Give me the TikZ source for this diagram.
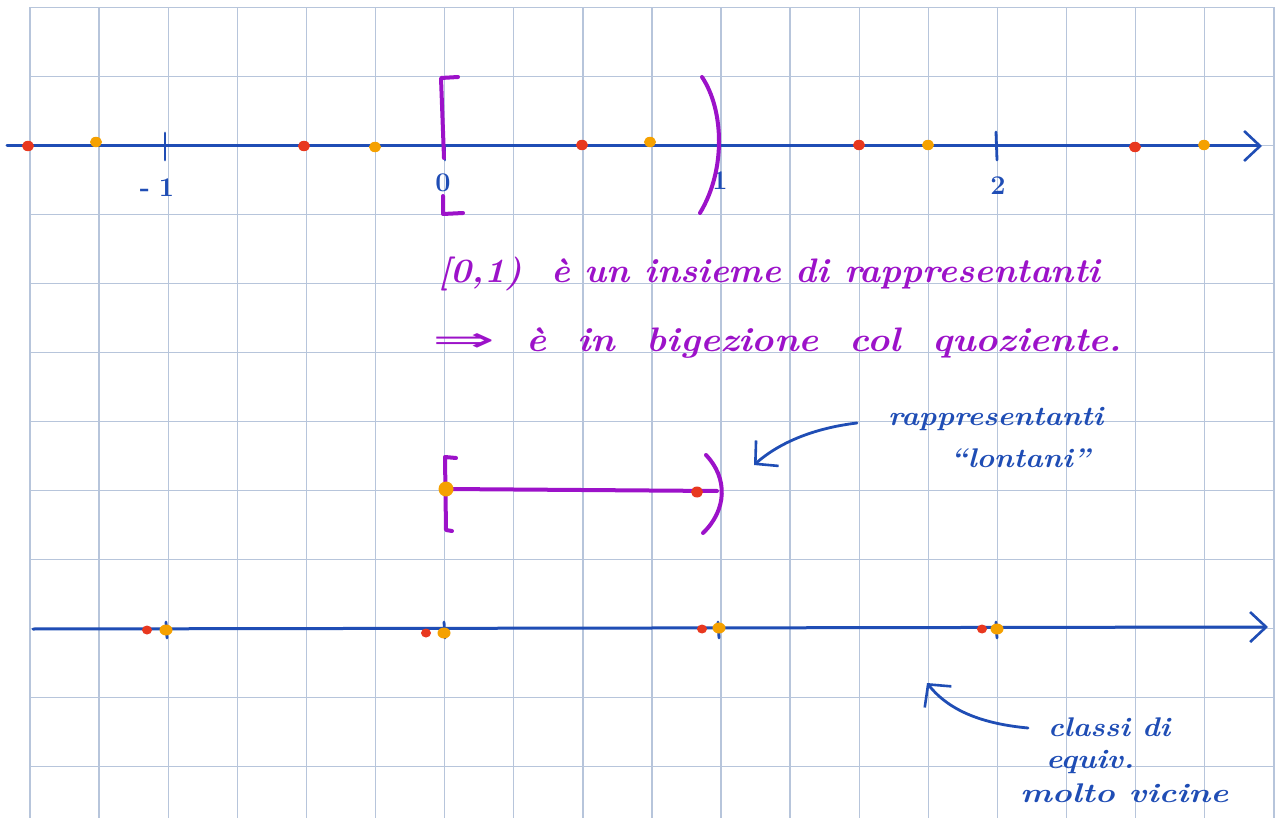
\documentclass[tikz,border=0pt]{standalone}
\usepackage{fontspec}
\usepackage{graphicx}
\usetikzlibrary{arrows.meta}
\newfontfamily\arrowfont{DejaVu Sans}
\definecolor{gridc}{HTML}{B7C5DB}
\definecolor{ink}{HTML}{1F4DB5}
\definecolor{purp}{HTML}{9C12C9}
\definecolor{dred}{HTML}{E8381F}
\definecolor{dorg}{HTML}{F5A100}
\tikzset{
  gridline/.style={gridc, line width=1.4pt},
  axis/.style={ink, line width=3pt, line cap=round, -{Straight Barb[length=16pt,width=30pt,line width=2.6pt]}},
  tick/.style={ink, line width=2.8pt, line cap=round},
  brk/.style={purp, line width=4pt, line cap=round, line join=round},
  callout/.style={ink, line width=2.8pt, line cap=round, -{Straight Barb[length=16pt,width=34pt,line width=2.6pt]}},
  rdot/.style={fill=dred, draw=none},
  odot/.style={fill=dorg, draw=none},
  ptext/.style={text=purp, inner sep=0pt, font=\bfseries\itshape\fontsize{34}{40}\selectfont},
  btext/.style={text=ink, inner sep=0pt, font=\bfseries\itshape\fontsize{27}{32}\selectfont},
  ntext/.style={text=ink, inner sep=0pt, font=\bfseries\fontsize{27}{32}\selectfont}
}
\begin{document}
\begin{tikzpicture}[x=1pt,y=-1pt]
\useasboundingbox (0,0) rectangle (1275,818);
\fill[white] (0,0) rectangle (1275,818);
% grid
\foreach \i in {0,...,18} \draw[gridline] ({30+69.1*\i},7.5) -- ({30+69.1*\i},818);
\foreach \j in {0,...,11} \draw[gridline] (30,{7.5+69*\j}) -- (1275,{7.5+69*\j});

% ---- top axis
\coordinate (a1s) at (7,146);
\coordinate (a1e) at (1262,146);
\draw[axis] (a1s) -- (a1e);
\draw[tick] (165,133) -- (165,160);
\draw[tick] (445,146) -- (445,160);
\draw[tick] (996,132) -- (997,160);
\node[ntext] (lm1) at (157,188) {-\,\,1};
\node[ntext] (l0) at (443,183) {0};
\node[ntext] (l1) at (720,181) {1};
\node[ntext] (l2) at (998,186) {2};
% dots top
\foreach \x/\y in {28/146, 304/146, 582/145, 859/145, 1135/147}
  \fill[rdot] (\x,\y) ellipse (6pt and 5.2pt);
\foreach \x/\y in {96/142, 375/147, 650/142, 928/145, 1204/145}
  \fill[odot] (\x,\y) ellipse (6pt and 5.2pt);

% purple brackets on top axis
\draw[brk] (458,77) -- (441,78) -- (444,158);
\draw[brk] (443,196) -- (443,214) -- (463,213);
\draw[brk] (702,77) .. controls (724,110) and (726,170) .. (700,213);

% ---- purple text
\node[ptext, anchor=base west] (t1) at (438,283)
  {\resizebox{662pt}{\height}{[0,1)\ \ è\ un\ insieme\ di\ rappresentanti}};
\node[ptext, anchor=base west] (t2) at (432,352)
  {\resizebox{690pt}{\height}{{\arrowfont\mdseries\upshape\scalebox{2}[1]{⇒}}\ \ è\ \ in\ \ bigezione\ \ col\ \ quoziente.}};

% ---- middle interval
\coordinate (m0) at (446,489);
\coordinate (m1) at (717,491);
\draw[brk] (m0) -- (m1);
\draw[brk] (456,458) -- (445,457) -- (446,530) -- (452,531);
\draw[brk] (706,455) .. controls (728,478) and (727,510) .. (703,533);
\fill[odot] (m0) circle (7.5pt);
\fill[rdot] (697,492) ellipse (6pt and 5.5pt);

% callout rappresentanti lontani
\node[btext, anchor=base west] (c1) at (888,425)
  {\resizebox{215pt}{\height}{rappresentanti}};
\node[btext, anchor=base west] (c2) at (950,467)
  {\resizebox{140pt}{\height}{``lontani''}};
\coordinate (c1s) at (857,423);
\coordinate (c1e) at (754,465);
\draw[callout] (c1s) .. controls (815,428) and (780,442) .. (c1e);

% ---- bottom axis
\coordinate (a2s) at (33,629);
\coordinate (a2e) at (1268,627);
\draw[axis] (a2s) -- (a2e);
\foreach \x in {166,444,718,996} \draw[tick] (\x,622) -- (\x+1,638);
\foreach \x/\y in {147/630, 426/633, 702/629, 982/629}
  \fill[rdot] (\x,\y) ellipse (5pt and 4.5pt);
\foreach \x/\y in {166/630, 444/633, 719/628, 997/629}
  \fill[odot] (\x,\y) ellipse (6.5pt and 5.5pt);

% callout classi di equiv.
\node[btext, anchor=base west] (d1) at (1048,736)
  {\resizebox{122pt}{\height}{classi di}};
\node[btext, anchor=base west] (d2) at (1046,768)
  {\resizebox{88pt}{\height}{equiv.}};
\node[btext, anchor=base west] (d3) at (1020,802)
  {\resizebox{208pt}{\height}{molto vicine}};
\coordinate (d1s) at (1028,728);
\coordinate (d1e) at (927,683);
\draw[callout] (d1s) .. controls (985,724) and (950,712) .. (d1e);
\end{tikzpicture}
\end{document}
